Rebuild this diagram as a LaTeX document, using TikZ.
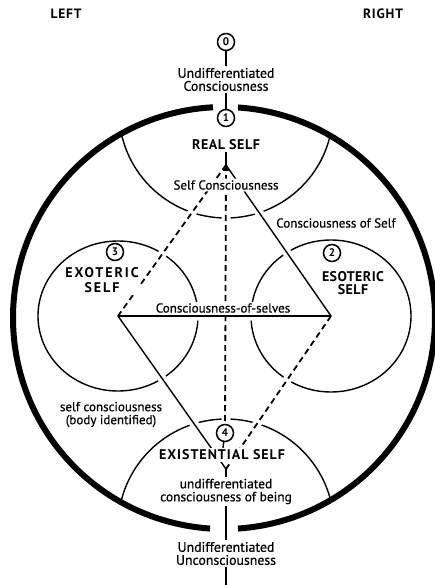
\documentclass[tikz,border=0pt]{standalone}
\usepackage{fontspec}
\setmainfont{PT Sans}
\usetikzlibrary{calc}
\pgfdeclarelayer{fg}
\pgfsetlayers{main,fg}
\begin{document}
\begin{tikzpicture}[x=1pt,y=1pt,
  thinline/.style={line width=1.4pt},
  dashline/.style={line width=1.8pt, dash pattern=on 6pt off 4pt},
  lbl/.style={fill=white, inner sep=1.5pt, align=center, font=\fontsize{13}{13}\selectfont\addfontfeature{FakeBold=0.6}},
  capslbl/.style={fill=white, inner sep=1.5pt, align=center, font=\bfseries\fontsize{14}{15}\selectfont\addfontfeature{LetterSpace=4}},
  numc/.style={circle, draw, line width=1.5pt, fill=white, inner sep=0pt, minimum size=17pt, font=\bfseries\fontsize{11}{11}\selectfont}
]
\useasboundingbox (0,0) rectangle (434,-585);
\coordinate (C) at (224,-318);
% big circle
\draw[line width=6pt] (C) ++(93:211) arc[start angle=93,end angle=266.2,radius=211];
\draw[line width=6pt] (C) ++(273.8:211) arc[start angle=273.8,end angle=446.2,radius=211];
% diamond points
\coordinate (T) at (226,-165);
\coordinate (L) at (118,-316);
\coordinate (R) at (331,-316);
\coordinate (B) at (226,-469);
% nodes (on a layer above the connectors)
\begin{pgfonlayer}{fg}
\node[capslbl, font=\bfseries\fontsize{13.5}{14}\selectfont\addfontfeature{LetterSpace=6}] (left) at (66,-14) {LEFT};
\node[capslbl, font=\bfseries\fontsize{13.5}{14}\selectfont\addfontfeature{LetterSpace=6}] (right) at (383,-14) {RIGHT};
\node[numc] (n0) at (226,-42) {0};
\node[lbl, font=\fontsize{13.8}{13}\selectfont\addfontfeature{FakeBold=0.6}] (uc) at (226,-79.5) {Undifferentiated\\Consciousness};
\node[numc] (n1) at (226,-118) {1};
\node[capslbl] (real) at (226,-145) {REAL SELF};
\node[lbl] (sc) at (226,-185) {Self Consciousness};
\node[lbl] (cos) at (336,-223) {Consciousness of Self};
\node[numc] (n3) at (115,-252) {3};
\node[capslbl, font=\bfseries\fontsize{14}{15}\selectfont\addfontfeature{LetterSpace=14}] (exo) at (102,-280.5) {EXOTERIC\\SELF};
\node[numc] (n2) at (332,-253) {2};
\node[capslbl, font=\bfseries\fontsize{14}{13}\selectfont\addfontfeature{LetterSpace=3}] (eso) at (353,-283.5) {ESOTERIC\\SELF};
\node[lbl] (cosv) at (223,-308) {Consciousness-of-selves};
\node[lbl] (sci) at (111,-414.5) {self consciousness\\(body identified)};
\node[numc] (n4) at (225,-433) {4};
\node[capslbl, font=\bfseries\fontsize{14}{15}\selectfont\addfontfeature{LetterSpace=7}] (ex) at (222,-455) {EXISTENTIAL SELF};
\node[lbl, font=\fontsize{13.4}{13}\selectfont\addfontfeature{FakeBold=0.6}] (ucb) at (226,-491.5) {undifferentiated\\consciousness of being};
\node[lbl, font=\fontsize{13.8}{13}\selectfont\addfontfeature{FakeBold=0.6}] (uu) at (226,-553.5) {Undifferentiated\\Unconsciousness};
\end{pgfonlayer}
\coordinate (bot) at (226,-585);
% inner circles, broken where the lines cross them
\begin{scope}[even odd rule]
\clip (-20,20) rectangle (460,-610)
  ($(T)!4.5pt!90:(L)$) -- ($(L)!4.5pt!-90:(T)$) -- ($(L)!4.5pt!90:(T)$) -- ($(T)!4.5pt!-90:(L)$) -- cycle
  ($(T)!4.5pt!90:(R)$) -- ($(R)!4.5pt!-90:(T)$) -- ($(R)!4.5pt!90:(T)$) -- ($(T)!4.5pt!-90:(R)$) -- cycle
  ($(L)!4.5pt!90:(B)$) -- ($(B)!4.5pt!-90:(L)$) -- ($(B)!4.5pt!90:(L)$) -- ($(L)!4.5pt!-90:(B)$) -- cycle
  ($(R)!4.5pt!90:(B)$) -- ($(B)!4.5pt!-90:(R)$) -- ($(B)!4.5pt!90:(R)$) -- ($(R)!4.5pt!-90:(B)$) -- cycle
  ($(L)!4.5pt!90:(R)$) -- ($(R)!4.5pt!-90:(L)$) -- ($(R)!4.5pt!90:(L)$) -- ($(L)!4.5pt!-90:(R)$) -- cycle
  ($(T)!4.5pt!90:(B)$) -- ($(B)!4.5pt!-90:(T)$) -- ($(B)!4.5pt!90:(T)$) -- ($(T)!4.5pt!-90:(B)$) -- cycle;
\draw[thinline] (L) ellipse [x radius=80, y radius=75];
\draw[thinline] (R) ellipse [x radius=80, y radius=76];
\clip (C) circle (209);
\draw[thinline] (226,-111) circle (107);
\draw[thinline] (226,-527) circle (108);
\end{scope}
% connectors, broken behind the labels
\begin{scope}[even odd rule]
\clip (-20,20) rectangle (460,-610)
  (sc.south west) rectangle (sc.north east)
  (cosv.south west) rectangle (cosv.north east)
  (ex.south west) rectangle (ex.north east);
\draw[dashline] (T) -- (L);
\draw[thinline] (T) -- (R);
\draw[thinline] (L) -- (B);
\draw[dashline] (R) -- (B);
\draw[thinline] (L) -- (R);
\draw[dashline] (T) -- (n4);
\end{scope}
% arrow point where the lines meet below REAL SELF
\fill (T) ++(0,3) -- ++(-3.2,-9) -- ++(6.4,0) -- cycle;
\draw[thinline] (n0) -- (uc);
\draw[thinline] (uc) -- (n1);
\draw[thinline] (T) -- (real);
\draw[thinline] (n4) -- (ex);
\draw[thinline] (B) -- (ucb);
\draw[thinline] (ucb) -- (uu);
\draw[thinline] (uu) -- (bot);
\end{tikzpicture}
\end{document}
